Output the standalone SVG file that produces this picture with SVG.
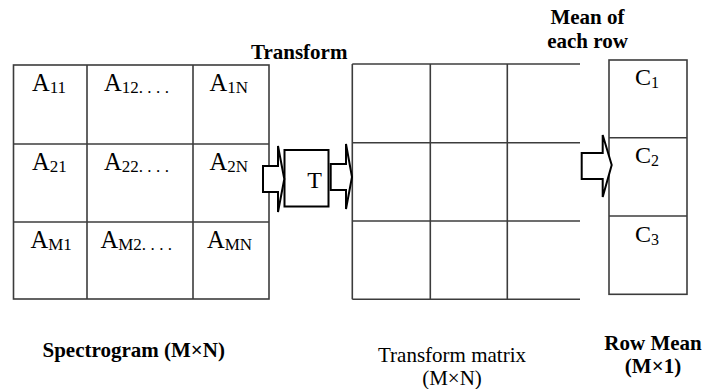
<svg xmlns="http://www.w3.org/2000/svg" width="719" height="389" viewBox="0 0 719 389">
  <style>
    .grid { fill: none; stroke: #3c3c3c; stroke-width: 1.6; }
    .blk { fill: #fff; stroke: #000; stroke-width: 2; stroke-linejoin: miter; }
    .cell { font-family: "Liberation Serif", "Times New Roman", serif; font-size: 24.5px; fill: #000; }
    .sub { font-size: 17px; }
    .vec { font-size: 24px; }
    .vec .sub { font-size: 16px; }
    .lbl { font-family: "Liberation Serif", "Times New Roman", serif; font-size: 21px; fill: #000; }
    .big { font-size: 24px; }
    .b { font-weight: bold; }
  </style>
  <rect width="719" height="389" fill="#fff"/>

  <!-- Spectrogram matrix -->
  <g id="spectrogram">
    <rect class="grid" x="13.5" y="65" width="255.5" height="234"/>
    <line class="grid" x1="87" y1="65" x2="87" y2="299"/>
    <line class="grid" x1="193" y1="65" x2="193" y2="299"/>
    <line class="grid" x1="13.5" y1="144" x2="269" y2="144"/>
    <line class="grid" x1="13.5" y1="222" x2="269" y2="222"/>
    <text class="cell" x="32" y="91">A<tspan class="sub" dy="2">11</tspan></text>
    <text class="cell" x="104" y="91">A<tspan class="sub" dy="2">12</tspan><tspan class="sub" letter-spacing="4.4">....</tspan></text>
    <text class="cell" x="209.5" y="91">A<tspan class="sub" dy="2">1N</tspan></text>
    <text class="cell" x="32" y="170">A<tspan class="sub" dy="2">21</tspan></text>
    <text class="cell" x="104" y="170">A<tspan class="sub" dy="2">22</tspan><tspan class="sub" letter-spacing="4.4">....</tspan></text>
    <text class="cell" x="209.5" y="170">A<tspan class="sub" dy="2">2N</tspan></text>
    <text class="cell" x="30.5" y="248">A<tspan class="sub" dy="2">M1</tspan></text>
    <text class="cell" x="100.5" y="248">A<tspan class="sub" dy="2">M2</tspan><tspan class="sub" letter-spacing="4.4">....</tspan></text>
    <text class="cell" x="207" y="248">A<tspan class="sub" dy="2">MN</tspan></text>
    <text class="lbl b" x="42.5" y="357">Spectrogram (M×N)</text>
  </g>

  <!-- Transform block -->
  <g id="transform">
    <rect class="blk" x="284.5" y="150" width="44" height="56.5"/>
    <text class="lbl big" x="314.5" y="187.5" text-anchor="middle">T</text>
    <text class="lbl b" x="251" y="59">Transform</text>
  </g>

  <!-- Transform matrix -->
  <g id="transform-matrix">
    <line class="grid" x1="352.3" y1="64" x2="352.3" y2="299.3"/>
    <line class="grid" x1="430.3" y1="64" x2="430.3" y2="299.3"/>
    <line class="grid" x1="507.3" y1="64" x2="507.3" y2="299.3"/>
    <line class="grid" x1="352.3" y1="64" x2="580" y2="64"/>
    <line class="grid" x1="352.3" y1="142.7" x2="580" y2="142.7"/>
    <line class="grid" x1="352.3" y1="221" x2="580" y2="221"/>
    <line class="grid" x1="352.3" y1="299.3" x2="580" y2="299.3"/>
    <text class="lbl" x="452" y="362" text-anchor="middle">Transform matrix</text>
    <text class="lbl" x="452" y="385" text-anchor="middle">(M×N)</text>
  </g>

  <!-- Row mean vector -->
  <g id="row-mean">
    <rect class="grid" x="609" y="60" width="78" height="234.3"/>
    <line class="grid" x1="609" y1="137.7" x2="687" y2="137.7"/>
    <line class="grid" x1="609" y1="216" x2="687" y2="216"/>
    <text class="cell vec" x="635" y="85">C<tspan class="sub" dy="3">1</tspan></text>
    <text class="cell vec" x="635" y="163">C<tspan class="sub" dy="3">2</tspan></text>
    <text class="cell vec" x="635" y="241.5">C<tspan class="sub" dy="3">3</tspan></text>
    <text class="lbl b" x="587.5" y="24" text-anchor="middle">Mean of</text>
    <text class="lbl b" x="587.5" y="48" text-anchor="middle">each row</text>
    <text class="lbl b" x="653" y="350" text-anchor="middle">Row Mean</text>
    <text class="lbl b" x="653" y="373" text-anchor="middle">(M×1)</text>
  </g>

  <!-- Block arrows between stages -->
  <g id="connectors">
    <polygon class="blk" points="263,166 278,166 278,146 284.3,179 278,212 278,192 263,192"/>
    <polygon class="blk" points="330.7,164 346,164 346,144 352,177 346,209 346,190 330.7,190"/>
    <polygon class="blk" points="581.7,153 602.7,153 602.7,135 611.7,165 602.7,197 602.7,179 581.7,179"/>
  </g>
</svg>
